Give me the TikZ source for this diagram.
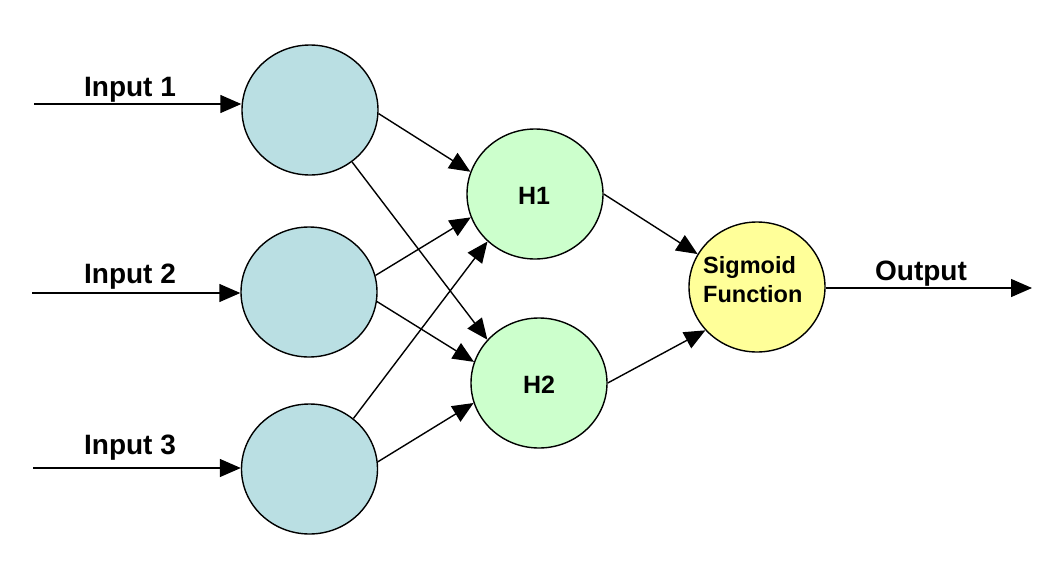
\documentclass[tikz,border=0pt]{standalone}
\usepackage{fontspec}
\setmainfont{Liberation Sans}
\usetikzlibrary{shapes.geometric,arrows.meta}
\definecolor{inblue}{HTML}{BADFE3}
\definecolor{hgreen}{HTML}{CCFFCC}
\definecolor{sigyellow}{HTML}{FFFF99}
\tikzset{
  neuron/.style={ellipse,draw=black,line width=1.4pt,minimum width=136pt,minimum height=130pt,inner sep=0pt},
  inneuron/.style={neuron,fill=inblue},
  hidneuron/.style={neuron,fill=hgreen},
  signeuron/.style={neuron,fill=sigyellow},
  conn/.style={line width=1.4pt,-{Triangle[length=21pt,width=18pt]}},
  biglabel/.style={font=\bfseries\fontsize{28}{32}\selectfont,anchor=base,inner sep=0pt},
  hlabel/.style={font=\bfseries\fontsize{25}{30}\selectfont,inner sep=0pt},
  siglabel/.style={font=\bfseries\fontsize{23.5}{28}\selectfont,anchor=base west,inner sep=0pt}
}
\begin{document}
\begin{tikzpicture}[x=1pt,y=-1pt]
\useasboundingbox (0,0) rectangle (1057,576);
\fill[white] (0,0) rectangle (1057,576);
% input neurons
\node[inneuron] (i1) at (310,110) {};
\node[inneuron] (i2) at (309,292) {};
\node[inneuron] (i3) at (309.5,469) {};
% hidden neurons
\node[hidneuron] (h1) at (535,194) {};
\node[hidneuron] (h2) at (539,383) {};
\node[hlabel] (h1t) at (534,196) {H1};
\node[hlabel] (h2t) at (539,385) {H2};
% sigmoid
\node[signeuron] (s) at (757,287) {};
\node[siglabel] (sig1) at (703,273) {Sigmoid};
\node[siglabel] (sig2) at (703,302) {Function};
% input arrows
\coordinate (a1) at (34,104);
\coordinate (a2) at (32,293);
\coordinate (a3) at (33,468);
\draw[conn] (a1) -- (a1 -| i1.west);
\draw[conn] (a2) -- (a2 -| i2.west);
\draw[conn] (a3) -- (a3 -| i3.west);
\node[biglabel] (l1) at (130,96) {Input 1};
\node[biglabel] (l2) at (130,283) {Input 2};
\node[biglabel] (l3) at (130,454) {Input 3};
% connections input -> hidden
\draw[conn] (i1.-3) -- (h1.161);
\draw[conn] (i1.-51) -- (h2.140);
\draw[conn] (i2.14) -- (h1.200);
\draw[conn] (i2.-8) -- (h2.162);
\draw[conn] (i3.49) -- (h1.225);
\draw[conn] (i3.6) -- (h2.197);
% hidden -> sigmoid
\draw[conn] (h1.0) -- (s.151);
\draw[conn] (h2.0) -- (s.220);
% output
\coordinate (o) at (1032,288);
\draw[conn] (s.east |- o) -- (o);
\node[biglabel] (lo) at (921,280) {Output};
\end{tikzpicture}
\end{document}
